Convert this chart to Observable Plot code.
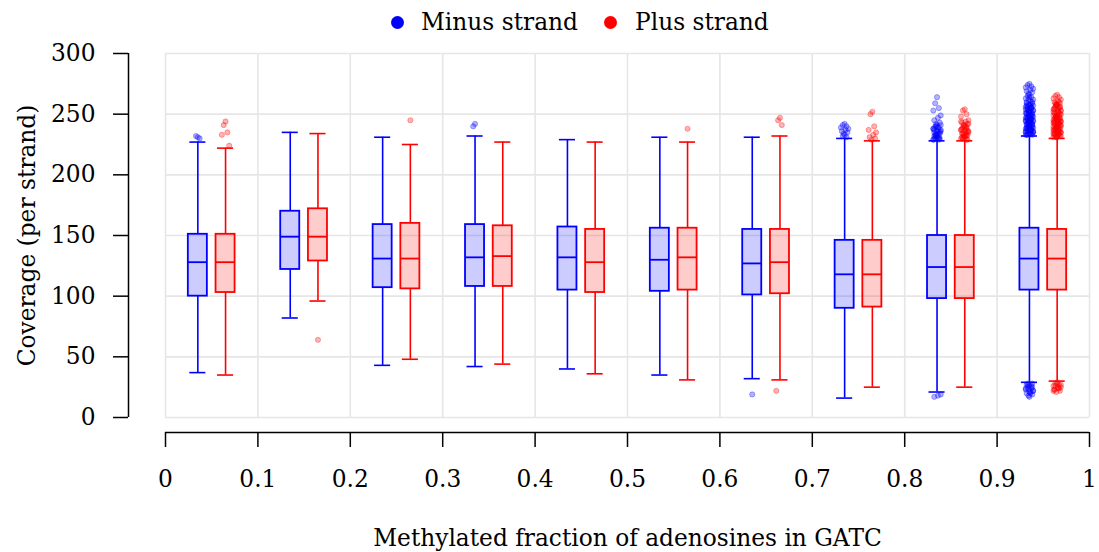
<!DOCTYPE html>
<html>
<head>
<meta charset="utf-8">
<script src="https://cdn.jsdelivr.net/npm/d3@7"></script>
<script src="https://cdn.jsdelivr.net/npm/@observablehq/plot@0.6"></script>
<style>
  body { margin: 0; background: #fff; font-family: "DejaVu Serif", serif; }
  #wrap { position: relative; width: 1099px; height: 552px; }
  #legend { position: relative; height: 36px; font-size: 23.3px; color: #000; }
  #legend .dot { position: absolute; width: 13px; height: 13px; border-radius: 50%; top: 16px; }
  #legend .lab { position: absolute; top: 8px; line-height: 28px; white-space: nowrap; }
</style>
</head>
<body>
<div id="wrap">
  <div id="legend">
    <span class="dot" style="left:390.5px;background:#0000ff"></span>
    <span class="lab" style="left:421px">Minus strand</span>
    <span class="dot" style="left:603.5px;background:#ff0000"></span>
    <span class="lab" style="left:635px">Plus strand</span>
  </div>
  <div id="chart"></div>
</div>
<script>
// ---- data ----
const binCenters = [0.05, 0.15, 0.25, 0.35, 0.45, 0.55, 0.65, 0.75, 0.85, 0.95];
const strands = ["Minus strand", "Plus strand"];
const xTicks = [0, 0.1, 0.2, 0.3, 0.4, 0.5, 0.6, 0.7, 0.8, 0.9, 1];
const yTicks = [0, 50, 100, 150, 200, 250, 300];
const xTitle = "Methylated fraction of adenosines in GATC";
const yTitle = "Coverage (per strand)";

const minusLower  = [37, 82, 43, 42, 40, 35, 32, 16, 21, 29];
const minusQ1     = [100, 122, 107, 108, 105, 104, 101, 90, 98, 105];
const minusMedian = [128, 149, 131, 132, 132, 130, 127, 118, 124, 131];
const minusQ3     = [151, 170, 159, 159, 157, 156, 155, 146, 150, 156];
const minusUpper  = [227, 235, 231, 232, 229, 231, 231, 230, 228, 232];

const plusLower  = [35, 96, 48, 44, 36, 31, 31, 25, 25, 30];
const plusQ1     = [103, 129, 106, 108, 103, 105, 102, 91, 98, 105];
const plusMedian = [128, 149, 131, 133, 128, 132, 128, 118, 124, 131];
const plusQ3     = [151, 172, 160, 158, 155, 156, 155, 146, 150, 155];
const plusUpper  = [222, 234, 225, 227, 227, 227, 232, 228, 228, 230];

const minusOutliers = [
  [231, 232, 230],
  [],
  [],
  [242, 240],
  [],
  [],
  [19],
  [242, 241, 240, 239, 238, 237, 236, 235, 234, 233, 232, 231],
  [264, 259, 255, 253, 249, 247, 245, 243, 242, 241, 240, 239, 238, 237, 236, 235, 234, 233, 232, 231, 230, 229,
   241, 239, 237, 235, 233, 231, 230, 229, 238, 236, 234, 232, 230, 240, 236, 233, 231, 229, 19, 18, 17],
  [275, 274, 273, 272, 271, 270, 269, 268, 267, 266, 265, 264, 263, 262, 261, 260, 259, 258, 257, 256, 255, 254,
   253, 252, 251, 250, 249, 248, 247, 246, 245, 244, 243, 242, 241, 240, 239, 238, 237, 236, 235, 234, 233,
   233, 234, 235, 236, 237, 238, 239, 240, 241, 242, 243, 244, 245, 246, 247, 248, 249, 250, 251, 252, 253,
   254, 255, 256, 257, 258, 259, 260, 262, 264, 233, 234, 235, 236, 237, 238, 239, 240, 241, 242, 243, 244,
   245, 246, 247, 248, 250, 252, 254, 256, 233, 235, 237, 239, 241, 243, 245, 247, 249, 251, 253, 255, 257,
   28, 27, 26, 25, 24, 23, 22, 21, 20, 19, 18, 17, 28, 26, 24, 22, 20, 27, 25, 23, 21]
];
const plusOutliers = [
  [244, 241, 235, 233, 224],
  [64],
  [245],
  [],
  [],
  [238],
  [247, 245, 241, 22],
  [252, 250, 240, 237, 235, 233, 231, 230, 229],
  [254, 253, 250, 248, 245, 244, 243, 242, 241, 240, 239, 238, 237, 236, 235, 234, 233, 232, 231, 230, 229,
   244, 242, 240, 238, 236, 234, 232, 230, 239, 237, 235, 233, 231, 229, 241, 237, 234, 232, 230],
  [266, 265, 264, 263, 262, 261, 260, 259, 258, 257, 256, 255, 254, 253, 252, 251, 250, 249, 248, 247, 246,
   245, 244, 243, 242, 241, 240, 239, 238, 237, 236, 235, 234, 233, 232, 231,
   231, 232, 233, 234, 235, 236, 237, 238, 239, 240, 241, 242, 243, 244, 245, 246, 247, 248, 249, 250, 251,
   252, 253, 254, 255, 256, 257, 258, 259, 260, 231, 232, 233, 234, 235, 236, 237, 238, 239, 240, 241, 242,
   243, 244, 245, 246, 247, 248, 249, 250, 252, 254, 256, 258, 232, 234, 236, 238, 240, 242, 244, 246, 248,
   29, 28, 27, 26, 25, 24, 23, 22, 21, 28, 26, 24, 22, 27, 25, 23]
];

// ---- build tables ----
const strandOffset = {"Minus strand": -0.015, "Plus strand": 0.015};
const boxHalf = 0.0103, capHalf = 0.0087;
const jitterSteps = [0, -1, 1, -2, 2, 0.5, -1.5, 1.5, -0.5];
const stats = {
  "Minus strand": [minusLower, minusQ1, minusMedian, minusQ3, minusUpper, minusOutliers],
  "Plus strand": [plusLower, plusQ1, plusMedian, plusQ3, plusUpper, plusOutliers]
};
const boxes = [];
const outs = [];
binCenters.forEach((c, i) => {
  strands.forEach(s => {
    const [lo, q1, md, q3, up, ol] = stats[s];
    const x = c + strandOffset[s];
    boxes.push({x, strand: s, lower: lo[i], q1: q1[i], median: md[i], q3: q3[i], upper: up[i]});
    ol[i].forEach((v, k) => outs.push({x: x + jitterSteps[k % jitterSteps.length] * 0.002, y: v, strand: s}));
  });
});

const FS = 23.3;
const chart = Plot.plot({
  width: 1099,
  height: 516,
  marginTop: 17,
  marginBottom: 135,
  marginLeft: 165,
  marginRight: 10,
  style: {fontFamily: "DejaVu Serif, serif", fontSize: FS + "px", color: "#000", background: "#fff", overflow: "visible"},
  x: {domain: [0, 1], axis: null},
  y: {domain: [0, 300], axis: null},
  color: {domain: strands, range: ["#0000ff", "#ff0000"]},
  marks: [
    Plot.gridX(xTicks, {stroke: "#e6e6e6", strokeOpacity: 1, strokeWidth: 1.6}),
    Plot.gridY(yTicks, {stroke: "#e6e6e6", strokeOpacity: 1, strokeWidth: 1.6}),
    // whiskers
    Plot.ruleX(boxes, {x: "x", y1: "q3", y2: "upper", stroke: "strand", strokeWidth: 1.6}),
    Plot.ruleX(boxes, {x: "x", y1: "lower", y2: "q1", stroke: "strand", strokeWidth: 1.6}),
    Plot.ruleY(boxes, {y: "upper", x1: d => d.x - capHalf, x2: d => d.x + capHalf, stroke: "strand", strokeWidth: 1.6}),
    Plot.ruleY(boxes, {y: "lower", x1: d => d.x - capHalf, x2: d => d.x + capHalf, stroke: "strand", strokeWidth: 1.6}),
    // boxes
    Plot.rect(boxes, {x1: d => d.x - boxHalf, x2: d => d.x + boxHalf, y1: "q1", y2: "q3",
      fill: "strand", fillOpacity: 0.2, stroke: "strand", strokeWidth: 1.8}),
    Plot.ruleY(boxes, {y: "median", x1: d => d.x - boxHalf, x2: d => d.x + boxHalf, stroke: "strand", strokeWidth: 1.8}),
    // outliers
    Plot.dot(outs, {x: "x", y: "y", r: 2.6, fill: "strand", fillOpacity: 0.3, stroke: "strand", strokeOpacity: 0.3, strokeWidth: 1}),
    // axes
    Plot.axisY(yTicks, {tickSize: 15, tickPadding: 18, dx: -37, label: null, strokeWidth: 1.5, fontSize: FS}),
    Plot.ruleX([0], {dx: -37, stroke: "#000", strokeWidth: 1.5}),
    Plot.axisX(xTicks, {tickSize: 15, tickPadding: 23, dy: 15, label: null, strokeWidth: 1.5, fontSize: FS, tickFormat: d => String(d)}),
    Plot.ruleY([0], {dy: 15, stroke: "#000", strokeWidth: 1.5}),
    Plot.text([xTitle], {text: d => d, frameAnchor: "bottom", dy: 121, lineAnchor: "middle", fontSize: FS}),
    Plot.text([yTitle], {text: d => d, frameAnchor: "left", dx: -138, rotate: -90, textAnchor: "middle", lineAnchor: "middle", fontSize: FS})
  ]
});
document.getElementById("chart").appendChild(chart);
</script>
</body>
</html>
